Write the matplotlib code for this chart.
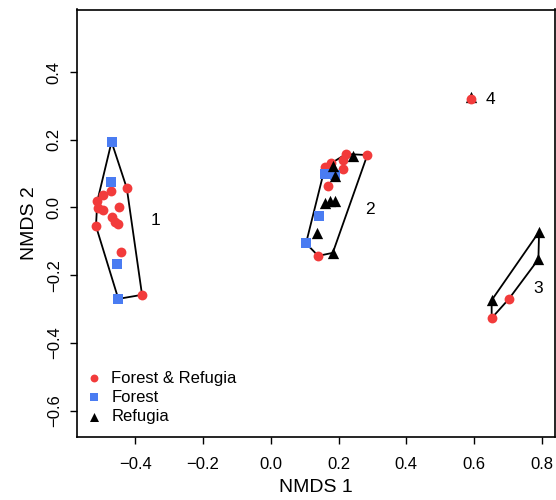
import matplotlib
matplotlib.use("Agg")
import matplotlib.pyplot as plt
from matplotlib.ticker import FuncFormatter
import numpy as np

plt.rcParams['font.family'] = ['Liberation Sans', 'DejaVu Sans']

# NMDS scores, split by site type
both_x = [-0.425, -0.473, -0.495, -0.512, -0.509, -0.495, -0.447, -0.470, -0.460, -0.452, -0.516, -0.442, -0.380,
          0.222, 0.285, 0.212, 0.214, 0.160, 0.178, 0.170, 0.140,
          0.703, 0.652,
          0.590]
both_y = [0.057, 0.049, 0.037, 0.019, -0.002, -0.007, 0.000, -0.027, -0.042, -0.050, -0.055, -0.131, -0.258,
          0.158, 0.155, 0.140, 0.113, 0.119, 0.130, 0.063, -0.143,
          -0.270, -0.327,
          0.320]
both_grp = [1] * 13 + [2] * 8 + [3] * 2 + [4]

forest_x = [-0.470, -0.473, -0.453, -0.450, 0.160, 0.190, 0.143, 0.104]
forest_y = [0.194, 0.076, -0.168, -0.270, 0.098, 0.096, -0.025, -0.106]
forest_grp = [1, 1, 1, 1, 2, 2, 2, 2]

ref_x = [0.244, 0.183, 0.190, 0.160, 0.175, 0.190, 0.137, 0.183, 0.792, 0.790, 0.652, 0.590]
ref_y = [0.152, 0.123, 0.093, 0.014, 0.019, 0.019, -0.074, -0.134, -0.072, -0.153, -0.274, 0.325]
ref_grp = [2, 2, 2, 2, 2, 2, 2, 2, 3, 3, 3, 4]

# cluster labels
lab_text = ['1', '2', '3', '4']
lab_x = [-0.340, 0.293, 0.790, 0.649]
lab_y = [-0.039, -0.005, -0.239, 0.320]

red = '#F23B3B'
blue = '#4A7CF2'


def hull(pts):
    # monotone chain convex hull
    pts = sorted(set(pts))
    if len(pts) < 3:
        return pts

    def cross(o, a, b):
        return (a[0] - o[0]) * (b[1] - o[1]) - (a[1] - o[1]) * (b[0] - o[0])

    lower, upper = [], []
    for p in pts:
        while len(lower) >= 2 and cross(lower[-2], lower[-1], p) <= 0:
            lower.pop()
        lower.append(p)
    for p in reversed(pts):
        while len(upper) >= 2 and cross(upper[-2], upper[-1], p) <= 0:
            upper.pop()
        upper.append(p)
    return lower[:-1] + upper[:-1]


fig = plt.figure(figsize=(5.56, 5.0), dpi=100)
ax = fig.add_axes([77 / 556, 1 - 437.3 / 500, 478 / 556, 427.8 / 500])

all_x = both_x + forest_x + ref_x
all_y = both_y + forest_y + ref_y
all_g = both_grp + forest_grp + ref_grp
for g in sorted(set(all_g)):
    pts = [(x, y) for x, y, gg in zip(all_x, all_y, all_g) if gg == g]
    h = hull(pts)
    if len(h) >= 2:
        hx = [p[0] for p in h] + [h[0][0]]
        hy = [p[1] for p in h] + [h[0][1]]
        ax.plot(hx, hy, color='black', lw=1.3, zorder=2)

bx = np.array(both_x)
by = np.array(both_y)
bg = np.array(both_grp)
ax.scatter(bx[bg != 4], by[bg != 4], s=50, color=red, marker='o', lw=0, zorder=3, label='Forest & Refugia')
ax.scatter(forest_x, forest_y, s=46, color=blue, marker='s', lw=0, zorder=4, label='Forest')
ax.scatter(ref_x, ref_y, s=66, color='black', marker='^', lw=0, zorder=5, label='Refugia')
ax.scatter(bx[bg == 4], by[bg == 4], s=50, color=red, marker='o', lw=0, zorder=6)

for t, x, y in zip(lab_text, lab_x, lab_y):
    ax.text(x, y, t, fontsize=12.5, ha='center', va='center')

ax.set_xlim(-0.572, 0.839)
ax.set_ylim(-0.679, 0.585)
ax.set_xticks(np.arange(-0.4, 0.81, 0.2))
ax.set_yticks(np.arange(-0.6, 0.41, 0.2))
fmt = FuncFormatter(lambda v, p: ('%.1f' % v).replace('-', '\u2212'))
ax.xaxis.set_major_formatter(fmt)
ax.yaxis.set_major_formatter(fmt)
ax.tick_params(labelsize=12, length=5, width=1)
ax.tick_params(axis='x', pad=9)
ax.tick_params(axis='y', pad=6)
for lab in ax.get_yticklabels():
    lab.set_rotation(90)
    lab.set_va('center')
for sp in ax.spines.values():
    sp.set_linewidth(1.2)

ax.set_xlabel('NMDS 1', fontsize=14, labelpad=5)
ax.set_ylabel('NMDS 2', fontsize=14, labelpad=6)

ax.legend(loc='lower left', bbox_to_anchor=(-0.015, 0.004), frameon=False, fontsize=12,
          handletextpad=0.3, labelspacing=0.25, borderaxespad=0.3, handlelength=1.5,
          scatterpoints=1, markerscale=0.8)

fig.savefig('out.png', dpi=100)
